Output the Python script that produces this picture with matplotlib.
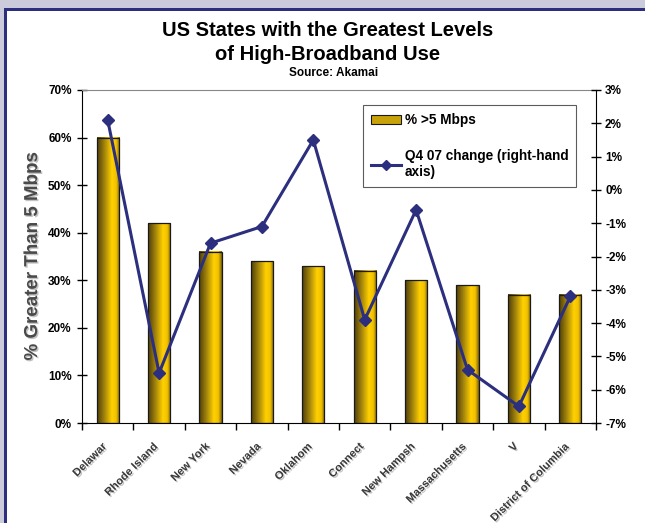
import matplotlib
matplotlib.use("Agg")
import matplotlib.pyplot as plt
import matplotlib.patches as mpatches
import matplotlib.lines as mlines
import matplotlib.patheffects as pe
from matplotlib.colors import LinearSegmentedColormap
from matplotlib.ticker import FuncFormatter
import numpy as np

plt.rcParams['font.family'] = ['Liberation Sans', 'DejaVu Sans']
plt.rcParams['font.weight'] = 'bold'

states = ["Delawar", "Rhode Island", "New York", "Nevada", "Oklahom",
          "Connect", "New Hampsh", "Massachusetts", "V", "District of Columbia"]
share_over_5mbps = [60, 42, 36, 34, 33, 32, 30, 29, 27, 27]
q4_change = [2.1, -5.5, -1.6, -1.1, 1.5, -3.9, -0.6, -5.4, -6.5, -3.2]

navy = "#2B2F7E"
fig = plt.figure(figsize=(6.45, 5.23), dpi=100)
fig.patch.set_facecolor("#CBCBDC")

# framed white panel
fig.patches.append(mpatches.Rectangle((4 / 645, -0.01), 1.02, 1 - 8 / 523 + 0.01,
                                      transform=fig.transFigure, facecolor=navy,
                                      edgecolor="none", zorder=-10))
fig.patches.append(mpatches.Rectangle((7 / 645, -0.01), 1.02, 1 - 11 / 523 + 0.01,
                                      transform=fig.transFigure, facecolor="white",
                                      edgecolor="none", zorder=-9))

ax = fig.add_axes([82 / 645, 1 - 423 / 523, (596 - 82) / 645, (423 - 90) / 523])
ax.set_facecolor("none")

gold = LinearSegmentedColormap.from_list(
    "gold", [(0.0, "#4F4008"), (0.3, "#9C7E0C"), (0.65, "#FFD000"),
             (0.85, "#F2C200"), (1.0, "#7A620A")])
grad = np.linspace(0, 1, 64).reshape(1, -1)

x = np.arange(len(states))
bw = 0.43
for xi, h in zip(x, share_over_5mbps):
    ax.imshow(grad, cmap=gold, aspect="auto", extent=(xi - bw / 2, xi + bw / 2, 0, h),
              zorder=2, interpolation="bilinear")
    ax.add_patch(mpatches.Rectangle((xi - bw / 2, 0), bw, h, facecolor="none",
                                    edgecolor="#1a1a1a", linewidth=0.9, zorder=3))

shadow = [pe.SimplePatchShadow(offset=(1, -1), shadow_rgbFace="#9a9a9a", alpha=0.6),
          pe.Normal()]

ax.set_xlim(-0.5, len(states) - 0.5)
ax.set_ylim(0, 70)
ax.set_yticks(range(0, 71, 10))
ax.yaxis.set_major_formatter(FuncFormatter(lambda v, p: f"{int(v)}%"))
# category labels sit slightly left of each bar centre
ax.set_xticks(x - 0.12)
ax.set_xticklabels(states, rotation=45, ha="right", rotation_mode="anchor",
                   fontsize=8, color="#3a3a3a")
for lbl in ax.get_xticklabels():
    lbl.set_path_effects(shadow)
ax.set_xticks(np.arange(-0.5, len(states), 1), minor=True)
ax.tick_params(axis="x", which="major", length=0, pad=13)
ax.tick_params(axis="x", which="minor", length=5, direction="out", width=1)
ax.tick_params(axis="y", length=7, direction="inout", width=1, labelsize=8.5, pad=4)
ax.spines["top"].set_color("#888888")
ax.spines["left"].set_color("black")
ax.spines["bottom"].set_color("black")
ax.spines["right"].set_visible(False)
ax.set_ylabel("% Greater Than 5 Mbps", fontsize=13.5, color="#4a4a4a", labelpad=5,
              fontweight="bold", path_effects=shadow)

ax2 = ax.twinx()
ax2.set_ylim(-7, 3)
ax2.set_yticks(range(-7, 4))
ax2.yaxis.set_major_formatter(FuncFormatter(lambda v, p: f"{int(v)}%"))
ax2.tick_params(axis="y", length=7, direction="inout", width=1, labelsize=8.5, pad=3)
ax2.plot(x, q4_change, color=navy, linewidth=2.2, marker="D", markersize=6.5,
         markerfacecolor=navy, markeredgecolor=navy, zorder=5)
for s in ["top", "left", "bottom"]:
    ax2.spines[s].set_visible(False)
ax2.spines["right"].set_color("black")

bar_handle = mpatches.Patch(facecolor="#C9A20A", edgecolor="#1a1a1a", linewidth=0.8)
line_handle = mlines.Line2D([], [], color=navy, linewidth=2.2, marker="D", markersize=5)
leg = ax2.legend([bar_handle, line_handle],
                 ["% >5 Mbps", "Q4 07 change (right-hand\naxis)"],
                 loc="upper left", bbox_to_anchor=((363 - 82) / 514, (423 - 105) / 333),
                 frameon=True, fancybox=False, edgecolor="#333333", fontsize=9.8,
                 labelspacing=1.6, handlelength=2.2, handletextpad=0.25,
                 borderpad=0.6, borderaxespad=0)
leg.get_frame().set_linewidth(0.8)

fig.text(328 / 645, 1 - 31 / 523, "US States with the Greatest Levels", ha="center",
         va="center", fontsize=14.5, fontweight="bold")
fig.text(328 / 645, 1 - 54 / 523, "of High-Broadband Use", ha="center",
         va="center", fontsize=14.5, fontweight="bold")
fig.text(334 / 645, 1 - 73 / 523, "Source: Akamai", ha="center",
         va="center", fontsize=8.5, fontweight="bold")

fig.savefig("out.png", dpi=100, facecolor=fig.get_facecolor())
